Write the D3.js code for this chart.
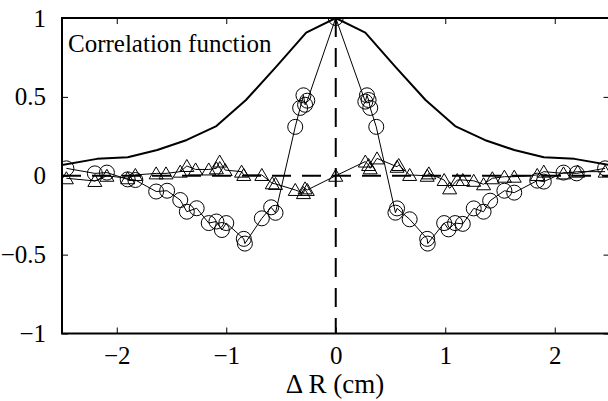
<!DOCTYPE html>
<html><head><meta charset="utf-8">
<script src="https://cdn.jsdelivr.net/npm/d3@7"></script>
<style>body{margin:0;background:#fff}svg{display:block}text{font-family:"Liberation Serif","DejaVu Serif",serif;fill:#000}</style>
</head><body>
<svg id="c" width="608" height="401"></svg>
<script>
// Solid correlation-function curve
const corrX = [-2.5,-2.18,-1.9,-1.63,-1.36,-1.09,-0.82,-0.545,-0.27,0,0.27,0.545,0.82,1.09,1.36,1.63,1.9,2.18,2.5];
const corrY = [0.068,0.107,0.117,0.163,0.227,0.315,0.48,0.69,0.907,1,0.907,0.69,0.48,0.315,0.227,0.163,0.117,0.107,0.068];
// Circle series
const circX = [-2.46,-2.20,-2.09,-1.90,-1.83,-1.64,-1.54,-1.42,-1.36,-1.27,-1.16,-1.09,-1.04,-1.00,-0.84,-0.83,-0.675,-0.59,-0.55,-0.37,-0.325,-0.295,-0.28,-0.26,0,
  0.27,0.285,0.30,0.315,0.37,0.545,0.56,0.675,0.835,0.84,0.99,1.03,1.09,1.16,1.26,1.35,1.41,1.54,1.63,1.84,1.90,2.08,2.20,2.46];
const circY = [0.047,0.015,0.02,-0.023,-0.027,-0.10,-0.095,-0.154,-0.228,-0.206,-0.30,-0.29,-0.344,-0.30,-0.40,-0.43,-0.27,-0.20,-0.235,0.31,0.43,0.51,0.45,0.476,1,
  0.47,0.51,0.48,0.43,0.31,-0.234,-0.207,-0.276,-0.40,-0.43,-0.30,-0.34,-0.30,-0.305,-0.207,-0.228,-0.158,-0.095,-0.107,-0.031,-0.037,0.02,0.015,0.047];
// Triangle series
const triX = [-2.46,-2.20,-2.09,-1.90,-1.83,-1.64,-1.55,-1.42,-1.36,-1.28,-1.16,-1.09,-1.06,-1.01,-0.86,-0.84,-0.675,-0.58,-0.55,-0.37,-0.295,-0.28,-0.26,0,
  0.27,0.30,0.315,0.377,0.56,0.575,0.675,0.835,0.85,0.99,1.04,1.11,1.16,1.26,1.35,1.43,1.54,1.63,1.84,1.90,2.08,2.21,2.46];
const triY = [-0.016,-0.033,0.0,-0.016,0.005,0.015,0.015,0.026,0.062,0.04,0.04,0.047,0.09,0.036,0.026,0.005,0.005,-0.048,-0.052,-0.09,-0.11,-0.08,-0.09,0,
  0.09,0.068,0.047,0.11,0.057,0.068,0.005,0,0.015,-0.027,-0.08,-0.027,-0.027,-0.032,-0.054,-0.016,-0.006,-0.006,0.005,0.026,0.015,0.026,0.026];
const xTicks = [-2,-1,0,1,2];
const yTicks = [-1,-0.5,0,0.5,1];
const xLabel = "\u0394 R (cm)";
const annotation = "Correlation function";

const FONT = '"Liberation Serif","DejaVu Serif",serif';
const svg = d3.select("#c");
const L=62, R=609.5, T=18, B=333.5;
const x = d3.scaleLinear().domain([-2.5,2.5]).range([L,R]);
const y = d3.scaleLinear().domain([-1,1]).range([B,T]);
const fmt = v => (v<0?"\u2212":"") + String(Math.abs(v));

svg.append("clipPath").attr("id","clip").append("rect").attr("x",L).attr("y",T).attr("width",R-L).attr("height",B-T);
const g = svg.append("g").attr("clip-path","url(#clip)");
const line = d3.line().x(d=>x(d[0])).y(d=>y(d[1]));

// correlation curve
g.append("path").datum(corrX.map((v,i)=>[v,corrY[i]])).attr("d",line)
  .attr("fill","none").attr("stroke","#000").attr("stroke-width",2).attr("stroke-linejoin","round");

// circle series
const cData = circX.map((v,i)=>[v,circY[i]]);
g.append("path").datum(cData).attr("d",line).attr("fill","none").attr("stroke","#000").attr("stroke-width",1);
g.selectAll("circle.m").data(cData).join("circle").attr("class","m")
  .attr("cx",d=>x(d[0])).attr("cy",d=>y(d[1])).attr("r",7.5)
  .attr("fill","none").attr("stroke","#000").attr("stroke-width",1);

// triangle series
const tData = triX.map((v,i)=>[v,triY[i]]);
g.append("path").datum(tData).attr("d",line).attr("fill","none").attr("stroke","#000").attr("stroke-width",1);
g.selectAll("path.t").data(tData).join("path").attr("class","t")
  .attr("transform",d=>`translate(${x(d[0])},${y(d[1])})`)
  .attr("d","M0,-6.5L7,5.5L-7,5.5Z").attr("fill","none").attr("stroke","#000").attr("stroke-width",1);

// dashed reference lines
g.append("line").attr("x1",x(-2.5)).attr("x2",x(2.5)).attr("y1",y(0)).attr("y2",y(0))
  .attr("stroke","#000").attr("stroke-width",2).attr("stroke-dasharray","19,11");
g.append("line").attr("x1",x(0)).attr("x2",x(0)).attr("y1",y(1)).attr("y2",y(-1))
  .attr("stroke","#000").attr("stroke-width",2).attr("stroke-dasharray","19,11");

// axes (inward ticks, all four sides)
const tl = 6;
const axB = d3.axisBottom(x).tickValues(xTicks).tickSizeInner(-tl).tickSizeOuter(0).tickFormat(fmt).tickPadding(13);
const axT = d3.axisTop(x).tickValues(xTicks).tickSizeInner(-tl).tickSizeOuter(0).tickFormat("");
const axL = d3.axisLeft(y).tickValues(yTicks).tickSizeInner(-tl).tickSizeOuter(0).tickFormat(fmt).tickPadding(16);
const axR = d3.axisRight(y).tickValues(yTicks).tickSizeInner(-tl).tickSizeOuter(0).tickFormat("");
function style(sel){
  sel.attr("font-family",null).attr("font-size",null);
  sel.select(".domain").remove();
  sel.selectAll("line").attr("stroke","#000").attr("stroke-width",1);
  sel.selectAll("text").style("font-family",FONT).style("font-size","25px").attr("fill","#000");
}
svg.append("g").attr("transform",`translate(0,${B})`).call(axB).call(style);
svg.append("g").attr("transform",`translate(0,${T})`).call(axT).call(style);
svg.append("g").attr("transform",`translate(${L},0)`).call(axL).call(style);
svg.append("g").attr("transform",`translate(${R},0)`).call(axR).call(style);

// box
svg.append("rect").attr("x",L).attr("y",T).attr("width",R-L).attr("height",B-T)
  .attr("fill","none").attr("stroke","#000").attr("stroke-width",2);

// labels
svg.append("text").attr("x",335).attr("y",393).attr("text-anchor","middle")
  .style("font-family",FONT).style("font-size","27px").text(xLabel);
svg.append("text").attr("x",68).attr("y",52).style("font-family",FONT).style("font-size","25px").text(annotation);
</script>
</body></html>
